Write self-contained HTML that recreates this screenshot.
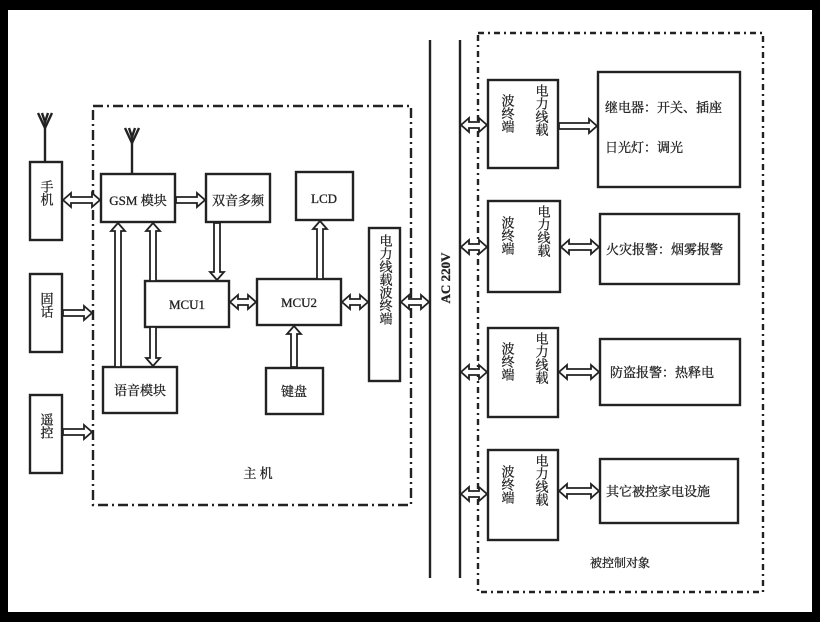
<!DOCTYPE html>
<html><head><meta charset="utf-8"><style>
html,body{margin:0;padding:0;background:#000;}
svg{display:block;}
text{font-family:"Liberation Serif","Noto Serif CJK SC",serif;fill:#222;stroke:#222;stroke-width:0.3;}
</style></head><body>
<svg id="s" width="820" height="622" viewBox="0 0 820 622" xmlns="http://www.w3.org/2000/svg">
<rect x="8" y="10" width="804" height="602" fill="#fff"/>
<g fill="none" stroke="#222" stroke-width="2.4">
<rect x="93" y="106" width="318" height="399" stroke-dasharray="10,4,2,4"/>
<rect x="478" y="33" width="285" height="559" stroke-dasharray="6,4,2,4"/>
<line x1="430" y1="40" x2="430" y2="578"/>
<line x1="460" y1="40" x2="460" y2="578"/>
<rect x="30" y="162" width="32" height="78"/>
<rect x="30" y="274" width="32" height="78"/>
<rect x="30" y="395" width="32" height="78"/>
<rect x="101" y="174" width="74" height="48"/>
<rect x="206" y="174" width="64" height="48"/>
<rect x="296" y="172" width="57" height="48"/>
<rect x="145" y="281" width="84" height="46"/>
<rect x="257" y="279" width="84" height="46"/>
<rect x="369" y="228" width="31" height="153"/>
<rect x="103" y="367" width="74" height="46"/>
<rect x="266" y="368" width="57" height="46"/>
<rect x="488" y="80" width="70" height="88"/>
<rect x="488" y="201" width="72" height="91"/>
<rect x="488" y="328" width="70" height="89"/>
<rect x="488" y="450" width="70" height="90"/>
<rect x="598" y="72" width="142" height="115"/>
<rect x="600" y="214" width="139" height="70"/>
<rect x="600" y="339" width="140" height="66"/>
<rect x="600" y="459" width="138" height="64"/>
<line x1="45" y1="125" x2="45" y2="162"/><path d="M38 113 L45 128 L52 113 M42 113 L45 122 L48 113"/>
<line x1="132" y1="140" x2="132" y2="174"/><path d="M125 128 L132 143 L139 128 M129 128 L132 137 L135 128"/>
</g>
<g id="arr" fill="#fff" stroke="#222" stroke-width="1.8"></g>
<g font-size="13">
<text x="138" y="205" text-anchor="middle">GSM 模块</text>
<text x="238" y="205" text-anchor="middle">双音多频</text>
<text x="324" y="203" text-anchor="middle">LCD</text>
<text x="187" y="309" text-anchor="middle">MCU1</text>
<text x="299" y="307" text-anchor="middle">MCU2</text>
<text x="140" y="395" text-anchor="middle">语音模块</text>
<text x="294" y="396" text-anchor="middle">键盘</text>
<text x="258" y="478" text-anchor="middle">主 机</text>
<text x="620" y="567" text-anchor="middle" font-size="12">被控制对象</text>
<text x="605" y="112">继电器：开关、插座</text>
<text x="605" y="152">日光灯：调光</text>
<text x="606" y="254">火灾报警：烟雾报警</text>
<text x="610" y="377">防盗报警：热释电</text>
<text x="606" y="496">其它被控家电设施</text>
<text transform="translate(450,278) rotate(-90)" text-anchor="middle" font-weight="bold">AC 220V</text>
</g>
<g font-size="13" style="writing-mode:vertical-rl">
<text x="46" y="180">手机</text>
<text x="46" y="292">固话</text>
<text x="46" y="413">遥控</text>
<text x="385" y="234">电力线载波终端</text>
<text x="507" y="94">波终端</text><text x="541" y="84">电力线载</text>
<text x="507" y="216">波终端</text><text x="543" y="205">电力线载</text>
<text x="507" y="342">波终端</text><text x="541" y="332">电力线载</text>
<text x="507" y="465">波终端</text><text x="541" y="454">电力线载</text>
</g>
<script>
var g=document.getElementById('arr');
function P(pts){var p=document.createElementNS('http://www.w3.org/2000/svg','polygon');p.setAttribute('points',pts.map(function(a){return a[0]+','+a[1]}).join(' '));g.appendChild(p);}
function H(x1,x2,y,d){var s=3,h=7,l=8;var a=[];if(d){a=[[x1,y],[x1+l,y-h],[x1+l,y-s],[x2-l,y-s],[x2-l,y-h],[x2,y],[x2-l,y+h],[x2-l,y+s],[x1+l,y+s],[x1+l,y+h]];}else{a=[[x1,y-s],[x2-l,y-s],[x2-l,y-h],[x2,y],[x2-l,y+h],[x2-l,y+s],[x1,y+s]];}P(a);}
function V(x,y1,y2,d){var s=3,h=7,l=(y2>y1?8:-8);var a;if(d){a=[[x,y1],[x-h,y1+l],[x-s,y1+l],[x-s,y2-l],[x-h,y2-l],[x,y2],[x+h,y2-l],[x+s,y2-l],[x+s,y1+l],[x+h,y1+l]];}else{a=[[x-s,y1],[x-s,y2-l],[x-h,y2-l],[x,y2],[x+h,y2-l],[x+s,y2-l],[x+s,y1]];}P(a);}
H(63,100,200,1);H(63,92,313);H(63,92,432);H(176,205,200);
V(217,223,280);V(153,281,223);V(118,367,223);V(153,327,366);
H(230,256,302,1);V(320,279,221);V(294,367,326);H(342,368,302,1);H(401,429,302,1);
[125,247,372,494].forEach(function(y){H(461,487,y,1);});
H(559,597,126);H(561,599,247,1);H(559,599,372,1);H(559,599,491,1);
</script>
</svg>
</body></html>
